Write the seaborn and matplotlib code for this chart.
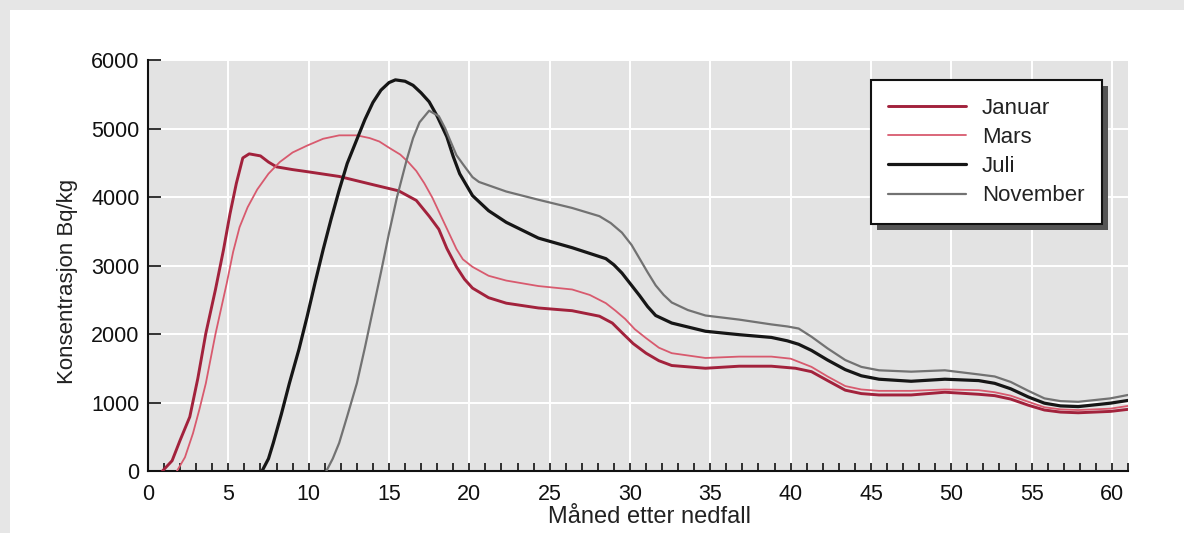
import numpy as np
import pandas as pd
import matplotlib
matplotlib.use("Agg")
import matplotlib.pyplot as plt
from matplotlib.patches import Rectangle
from matplotlib.ticker import MultipleLocator
import seaborn as sns

# ---------------- data ----------------
series_names = ["Januar", "Mars", "Juli", "November"]

jan_month = [0.9, 1.5, 2.0, 2.6, 3.1, 3.6, 4.2, 4.7, 5.1, 5.5, 5.9, 6.3, 7.0, 7.5, 8.0, 9.0, 9.9,
             11.9, 14.0, 15.6, 16.7, 17.5, 18.1, 18.6, 19.2, 19.7, 20.2, 21.2, 22.3, 24.3, 26.4,
             28.1, 28.9, 29.5, 30.2, 31.0, 31.8, 32.6, 34.7, 36.8, 38.8, 40.3, 41.3, 42.3, 43.4,
             44.4, 45.5, 47.5, 49.6, 51.7, 52.7, 53.7, 54.8, 55.8, 56.8, 57.9, 59.9, 61.0]
jan_value = [0, 150, 450, 790, 1350, 2010, 2650, 3230, 3750, 4200, 4570, 4630, 4600, 4510, 4440, 4400, 4370,
             4300, 4180, 4090, 3950, 3720, 3530, 3250, 2980, 2800, 2670, 2530, 2450, 2380, 2340,
             2260, 2160, 2020, 1860, 1720, 1610, 1540, 1500, 1530, 1530, 1500, 1450, 1320, 1180,
             1130, 1110, 1110, 1150, 1120, 1100, 1050, 960, 890, 860, 850, 870, 900]

mar_month = [1.8, 2.3, 2.8, 3.2, 3.6, 4.2, 4.9, 5.3, 5.7, 6.2, 6.8, 7.5, 8.2, 9.0, 9.9, 10.9, 11.9,
             13.0, 13.8, 14.4, 15.0, 15.7, 16.2, 16.7, 17.2, 17.7, 18.1, 18.6, 19.2, 19.6, 20.2,
             21.2, 22.3, 24.3, 26.4, 27.5, 28.5, 29.1, 29.7, 30.3, 31.0, 31.8, 32.6, 34.7, 36.8,
             38.8, 40.0, 41.3, 42.3, 43.4, 44.4, 45.5, 47.5, 49.6, 51.7, 52.7, 53.7, 54.8, 55.8,
             56.8, 57.9, 59.9, 61.0]
mar_value = [0, 200, 550, 900, 1280, 2000, 2740, 3200, 3560, 3850, 4110, 4340, 4510, 4650, 4750, 4850, 4900,
             4900, 4860, 4810, 4720, 4620, 4510, 4380, 4200, 3990, 3790, 3540, 3240, 3090, 2980,
             2850, 2780, 2700, 2650, 2570, 2450, 2340, 2220, 2070, 1940, 1800, 1720, 1650, 1670,
             1670, 1640, 1520, 1380, 1240, 1190, 1170, 1170, 1190, 1180, 1150, 1100, 1010, 930,
             900, 890, 910, 950]

jul_month = [7.1, 7.5, 7.8, 8.3, 8.8, 9.4, 9.9, 10.4, 10.9, 11.4, 11.9, 12.4, 13.0, 13.5, 14.0, 14.5,
             15.0, 15.4, 16.0, 16.5, 17.0, 17.5, 18.0, 18.6, 19.0, 19.4, 20.2, 21.2, 22.3, 24.3, 26.4,
             28.5, 29.0, 29.5, 30.1, 30.6, 31.1, 31.6, 32.6, 34.7, 36.8, 38.8, 39.8, 40.5, 41.3, 42.3,
             43.4, 44.4, 45.5, 47.5, 49.6, 51.7, 52.7, 53.7, 54.8, 55.8, 56.8, 57.9, 59.9, 61.0]
jul_value = [0, 180, 410, 830, 1280, 1780, 2250, 2750, 3230, 3680, 4100, 4490, 4840, 5130, 5380, 5560,
             5670, 5710, 5690, 5630, 5520, 5390, 5180, 4880, 4590, 4340, 4020, 3800, 3630, 3400, 3260,
             3100, 3010, 2890, 2710, 2560, 2400, 2270, 2160, 2040, 1990, 1950, 1900, 1850, 1760, 1620,
             1480, 1390, 1340, 1310, 1340, 1320, 1280, 1200, 1080, 990, 950, 940, 990, 1030]

nov_month = [11.1, 11.5, 11.9, 12.4, 13.0, 13.5, 14.0, 14.5, 15.0, 15.5, 16.1, 16.5, 16.9, 17.5, 18.1,
             18.5, 18.8, 19.2, 19.6, 20.2, 20.6, 22.3, 24.3, 26.4, 28.1, 28.8, 29.5, 30.1, 30.6, 31.1,
             31.6, 32.1, 32.6, 33.6, 34.7, 36.8, 38.8, 39.8, 40.5, 41.3, 42.3, 43.4, 44.4, 45.5, 47.5,
             49.6, 51.7, 52.7, 53.7, 54.8, 55.8, 56.8, 57.9, 59.9, 61.0]
nov_value = [0, 180, 410, 800, 1280, 1800, 2350, 2900, 3470, 4000, 4540, 4860, 5090, 5260, 5180,
             5000, 4830, 4610, 4480, 4290, 4220, 4080, 3960, 3840, 3720, 3620, 3480, 3300, 3100, 2900,
             2710, 2570, 2460, 2350, 2270, 2210, 2140, 2110, 2080, 1960, 1790, 1620, 1520, 1470, 1450,
             1470, 1410, 1380, 1300, 1170, 1060, 1020, 1010, 1060, 1110]

x_ticks = list(range(0, 61, 5))
y_ticks = list(range(0, 6001, 1000))
x_label = "Måned etter nedfall"
y_label = "Konsentrasjon Bq/kg"

# ---------------- styling ----------------
sns.set_theme(style="ticks")
plt.rcParams["font.family"] = ["Liberation Sans", "DejaVu Sans"]
plt.rcParams["text.color"] = "#222222"
plt.rcParams["axes.labelcolor"] = "#222222"
plt.rcParams["xtick.color"] = "#111111"
plt.rcParams["ytick.color"] = "#111111"

colors = {"Januar": "#a2223c", "Mars": "#d85a6e", "Juli": "#161616", "November": "#727272"}
widths = {"Januar": 2.1, "Mars": 1.3, "Juli": 2.3, "November": 1.6}

frames = []
for name, m, v in [("Januar", jan_month, jan_value), ("Mars", mar_month, mar_value),
                   ("Juli", jul_month, jul_value), ("November", nov_month, nov_value)]:
    frames.append(pd.DataFrame({"month": m, "value": v, "series": name}))
df = pd.concat(frames, ignore_index=True)

fig = plt.figure(figsize=(11.84, 5.33), dpi=100)
fig.patch.set_facecolor("white")
# light grey scan frame (top and left)
fig.add_artist(Rectangle((0, 0), 10 / 1184, 1, transform=fig.transFigure,
                         facecolor="#e6e6e6", edgecolor="none", zorder=-5))
fig.add_artist(Rectangle((0, 1 - 10 / 533), 1, 10 / 533, transform=fig.transFigure,
                         facecolor="#e6e6e6", edgecolor="none", zorder=-5))

ax = fig.add_axes([148 / 1184, 1 - 471 / 533, (1128 - 148) / 1184, (471 - 60) / 533])
ax.set_facecolor("#e3e3e3")

for name in series_names:
    sub = df[df["series"] == name]
    sns.lineplot(data=sub, x="month", y="value", ax=ax, color=colors[name],
                 linewidth=widths[name], label=name, estimator=None, sort=True, zorder=3)

ax.set_xlim(0, 61)
ax.set_ylim(0, 6000)
ax.set_xticks(x_ticks)
ax.xaxis.set_minor_locator(MultipleLocator(1))
ax.set_yticks(y_ticks)
ax.grid(True, which="major", color="white", linewidth=1.4, zorder=0)
ax.set_axisbelow(True)

for s in ["top", "right"]:
    ax.spines[s].set_visible(False)
for s in ["left", "bottom"]:
    ax.spines[s].set_color("#111111")
    ax.spines[s].set_linewidth(1.5)

ax.tick_params(axis="x", which="both", direction="in", length=6, width=1.2, labelsize=15.5, pad=9)
ax.tick_params(axis="y", which="both", direction="in", length=9, width=1.2, labelsize=15.5, pad=6)

ax.set_xlabel(x_label, fontsize=17)
ax.set_ylabel(y_label, fontsize=16)
ax.xaxis.set_label_coords((650 - 148) / 980, -0.085)
ax.yaxis.set_label_coords((78 - 148) / 980, 1 - (281 - 60) / 411)

leg = ax.legend(loc="upper right", bbox_to_anchor=((1102 - 148) / 980, 1 - (80 - 60) / 411),
                borderaxespad=0, frameon=True, fancybox=False, fontsize=16,
                handlelength=3.5, handletextpad=0.7, labelspacing=0.37, borderpad=0.8)
leg.get_frame().set_edgecolor("#111111")
leg.get_frame().set_linewidth(1.5)
leg.get_frame().set_facecolor("white")
leg.get_frame().set_alpha(1)
leg.set_zorder(6)

# drop shadow of the legend box
fig.canvas.draw()
bb = leg.get_window_extent()
inv = ax.transAxes.inverted()
(x0, y0) = inv.transform((bb.x0 + 6, bb.y0 - 6))
(x1, y1) = inv.transform((bb.x1 + 6, bb.y1 - 6))
ax.add_patch(Rectangle((x0, y0), x1 - x0, y1 - y0, transform=ax.transAxes,
                       facecolor="#555555", edgecolor="none", zorder=5.5, clip_on=False))

fig.savefig("out.png", dpi=100)
